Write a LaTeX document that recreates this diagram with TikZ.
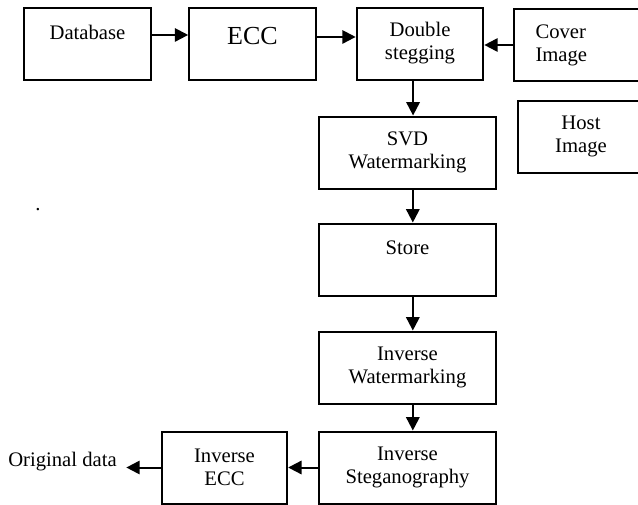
\documentclass[tikz,border=0pt]{standalone}
\usepackage{fontspec}
\setmainfont{Liberation Serif}
\usepackage{tikz}
\usetikzlibrary{arrows.meta, positioning, calc}

\newcommand{\boxfont}{\fontsize{15.5}{17.3}\selectfont}

\tikzset{
  box/.style={draw, line width=1.5pt, minimum width=95pt, minimum height=54pt,
    inner sep=2pt, align=center, font=\boxfont},
  widebox/.style={box, minimum width=133pt},
  arr/.style={-{Triangle[length=10pt,width=10pt]}, line width=1.5pt}
}

\begin{document}
\begin{tikzpicture}[x=0.75pt, y=-0.75pt]
  \useasboundingbox (0,0) rectangle (638,504);
  \clip (0,0) rectangle (638,504);

  % encoding chain
  \node[box] (db) at (87.5,43.5) {Database\\ \mbox{}};
  \node[box, font=\fontsize{19.5}{17.3}\selectfont] (ecc) at (252.5,43.5) {ECC\\[-6pt] \mbox{}};
  \node[box] (dbl) at (420,43.5) {Double\\stegging};
  \node[box, minimum width=98pt, text width=66pt, inner xsep=15.75pt, align=left] (cover) at (579.5,45) {Cover\\Image};
  \node[box] (host) at (581,136.5) {Host\\Image};
  \node[widebox] (svd) at (407.5,152.5) {SVD\\Watermarking};
  \node[widebox] (store) at (407.5,259.5) {Store\\ \mbox{}};

  % decoding chain
  \node[widebox] (iwm) at (407.5,367.5) {Inverse\\Watermarking};
  \node[widebox] (isteg) at (407.5,467.5) {Inverse\\Steganography};
  \node[box, minimum width=94pt] (iecc) at (224.5,467.5) {Inverse\\ECC};
  \node[font=\boxfont, inner sep=0pt] (orig) at (62.5,462) {Original data};
  \node[font=\boxfont, inner sep=0pt] (dot) at (38,210) {.};

  \draw[arr] ([yshift=6.4pt]db.east) -- ([yshift=6.4pt]ecc.west);
  \draw[arr] ([yshift=4.9pt]ecc.east) -- ([yshift=4.9pt]dbl.west);
  \draw[arr] (cover.west) -- (cover.west -| dbl.east);
  \draw[arr] ([xshift=-5.2pt]dbl.south) -- ([xshift=-5.2pt]dbl.south |- svd.north);
  \draw[arr] ([xshift=4pt]svd.south) -- ([xshift=4pt]store.north);
  \draw[arr] ([xshift=4pt]store.south) -- ([xshift=4pt]iwm.north);
  \draw[arr] ([xshift=4pt]iwm.south) -- ([xshift=4pt]isteg.north);
  \draw[arr] (isteg.west) -- (iecc.east);
  \draw[arr] (iecc.west) -- ([xshift=7pt]orig.east |- iecc.west);
\end{tikzpicture}
\end{document}
